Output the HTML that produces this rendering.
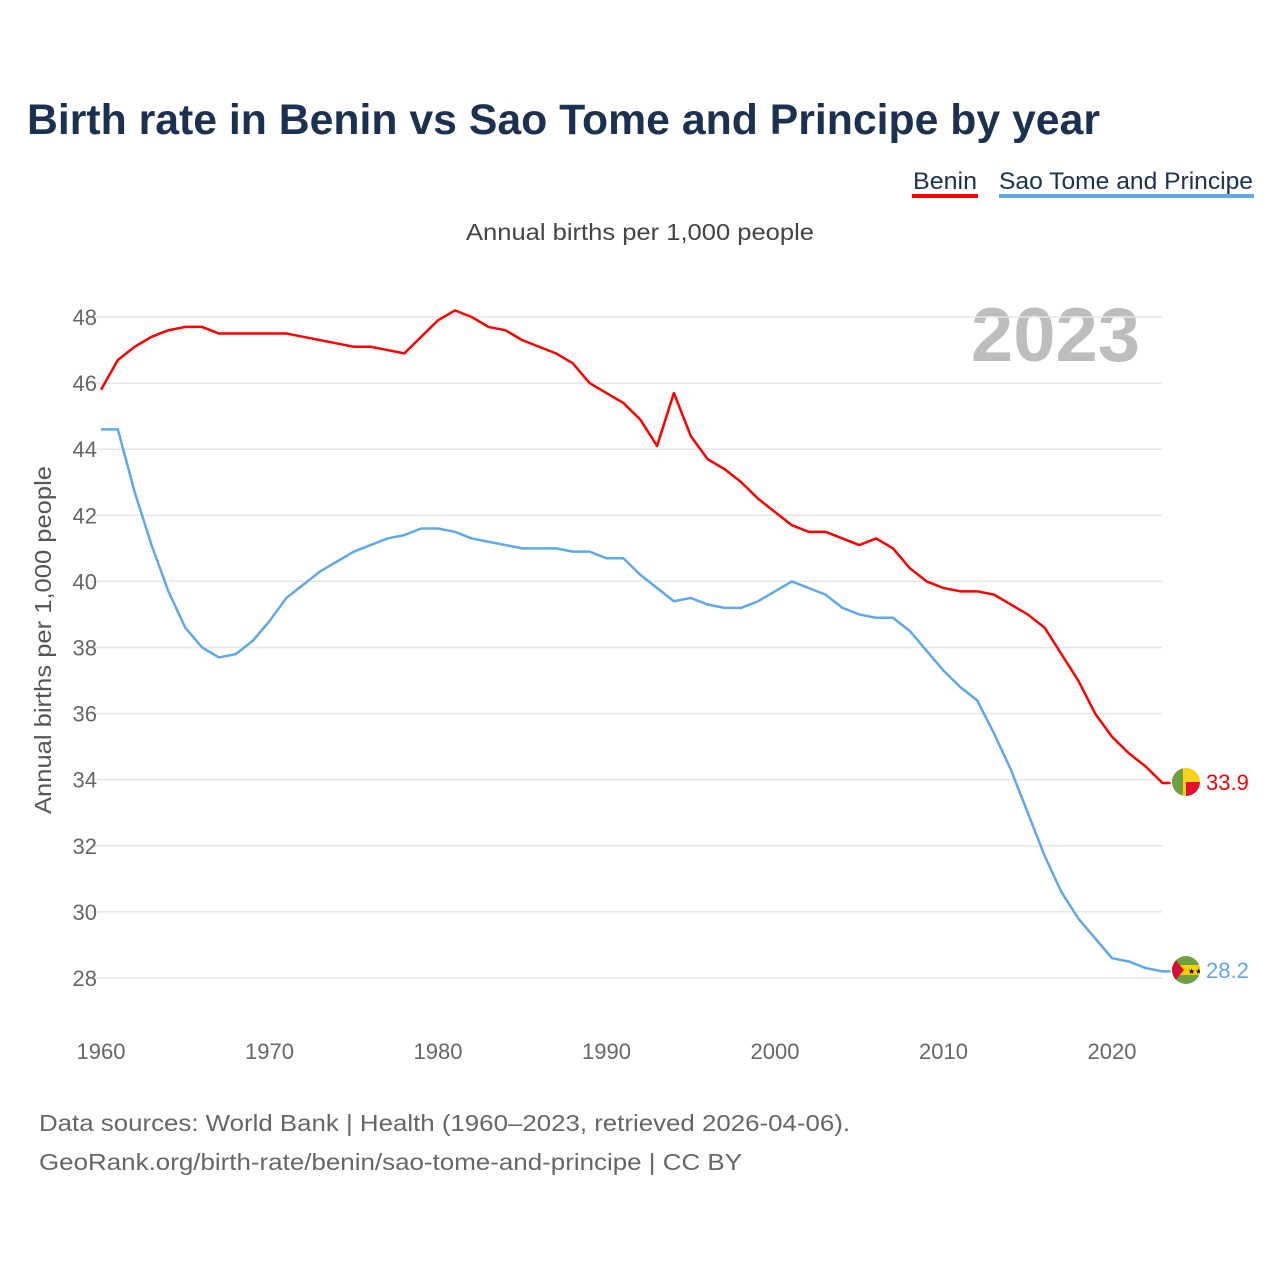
<!DOCTYPE html>
<html><head><meta charset="utf-8"><style>
body{margin:0;background:#fff;font-family:"Liberation Sans",sans-serif}
</style></head><body>
<svg id="chart" width="1280" height="1280" xmlns="http://www.w3.org/2000/svg" font-family="Liberation Sans, sans-serif">
<text x="27" y="134" font-size="43" font-weight="bold" fill="#1b3152" textLength="1073" lengthAdjust="spacingAndGlyphs">Birth rate in Benin vs Sao Tome and Principe by year</text>
<g><text x="913" y="189" font-size="24" fill="#1b3152" textLength="64" lengthAdjust="spacingAndGlyphs">Benin</text><rect x="912" y="194" width="66" height="4" fill="#ff0000"/></g>
<g><text x="999" y="189" font-size="24" fill="#1b3152" textLength="254" lengthAdjust="spacingAndGlyphs">Sao Tome and Principe</text><rect x="999" y="194" width="255" height="4" fill="#5fa8ec"/></g>
<text x="466" y="240" font-size="23" fill="#444" textLength="348" lengthAdjust="spacingAndGlyphs">Annual births per 1,000 people</text>
<text x="1140" y="361" font-size="76" font-weight="bold" fill="#bdbdbd" text-anchor="end">2023</text>
<text transform="translate(51,814) rotate(-90)" font-size="23" fill="#555" textLength="348" lengthAdjust="spacingAndGlyphs">Annual births per 1,000 people</text>
<g id="grid"></g><g id="xt"></g><g id="lines"></g>
<g><clipPath id="c1"><circle cx="1186" cy="782" r="14"/></clipPath><g clip-path="url(#c1)"><rect x="1172" y="768" width="28" height="28" fill="#fcd116"/><rect x="1186" y="782" width="14" height="14" fill="#e8112d"/><rect x="1172" y="768" width="11" height="28" fill="#6ca040"/></g></g>
<g><clipPath id="c2"><circle cx="1186" cy="970" r="14"/></clipPath><g clip-path="url(#c2)"><rect x="1172" y="956" width="28" height="28" fill="#6ca040"/><rect x="1172" y="965" width="28" height="10" fill="#ffce00"/><polygon points="1172,956 1184,970 1172,984" fill="#d21034"/><text x="1188" y="974" font-size="8" fill="#000">★★</text></g></g>
<text x="1206" y="790" font-size="22" fill="#ff0000">33.9</text>
<text x="1206" y="978" font-size="22" fill="#5fa8ec">28.2</text>
<text x="39" y="1131" font-size="23" fill="#666" textLength="811" lengthAdjust="spacingAndGlyphs">Data sources: World Bank | Health (1960–2023, retrieved 2026-04-06).</text>
<text x="39" y="1170" font-size="23" fill="#666" textLength="703" lengthAdjust="spacingAndGlyphs">GeoRank.org/birth-rate/benin/sao-tome-and-principe | CC BY</text>
</svg>
<script>
const years=[];for(let y=1960;y<=2023;y++)years.push(y);
const benin=[45.8,46.7,47.1,47.4,47.6,47.7,47.7,47.5,47.5,47.5,47.5,47.5,47.4,47.3,47.2,47.1,47.1,47.0,46.9,47.4,47.9,48.2,48.0,47.7,47.6,47.3,47.1,46.9,46.6,46.0,45.7,45.4,44.9,44.1,45.7,44.4,43.7,43.4,43.0,42.5,42.1,41.7,41.5,41.5,41.3,41.1,41.3,41.0,40.4,40.0,39.8,39.7,39.7,39.6,39.3,39.0,38.6,37.8,37.0,36.0,35.3,34.8,34.4,33.9];
const stp=[44.6,44.6,42.7,41.1,39.7,38.6,38.0,37.7,37.8,38.2,38.8,39.5,39.9,40.3,40.6,40.9,41.1,41.3,41.4,41.6,41.6,41.5,41.3,41.2,41.1,41.0,41.0,41.0,40.9,40.9,40.7,40.7,40.2,39.8,39.4,39.5,39.3,39.2,39.2,39.4,39.7,40.0,39.8,39.6,39.2,39.0,38.9,38.9,38.5,37.9,37.3,36.8,36.4,35.4,34.3,33.0,31.7,30.6,29.8,29.2,28.6,28.5,28.3,28.2];
const yTicks=[28,30,32,34,36,38,40,42,44,46,48];
const xTicks=[1960,1970,1980,1990,2000,2010,2020];
const NS="http://www.w3.org/2000/svg";
const X=y=>101+(y-1960)*(1112-101)/60;
const Y=v=>978-(v-28)*(978-317)/20;
function mk(t,a,p){const e=document.createElementNS(NS,t);for(const k in a)e.setAttribute(k,a[k]);p.appendChild(e);return e;}
const grid=document.getElementById('grid');
yTicks.forEach(v=>{
 const l=mk('line',{x1:90,x2:1162,y1:Y(v),y2:Y(v),stroke:'#e6e6e6','stroke-width':1.5},grid);
 
 
 const t=mk('text',{x:97,y:Y(v)+8,'font-size':22,fill:'#666','text-anchor':'end'},grid);t.textContent=v;
 
 
});
const xt=document.getElementById('xt');
xTicks.forEach(v=>{
 const t=mk('text',{x:X(v),y:1059,'font-size':22,fill:'#666','text-anchor':'middle'},xt);t.textContent=v;
 
 
});
const lines=document.getElementById('lines');
function line(d,c,n){
 const pts=d.map((v,i)=>X(years[i])+','+Y(v));
 pts.push((X(years[years.length-1])+8)+','+Y(d[d.length-1]));
 const p=mk('polyline',{points:pts.join(' '),fill:'none',stroke:c,'stroke-width':2.5,'stroke-linejoin':'round'},lines);
 
 
}
line(stp,'#5fa8ec','sao-tome-line');
line(benin,'#ff0000','benin-line');
</script>
</body></html>
